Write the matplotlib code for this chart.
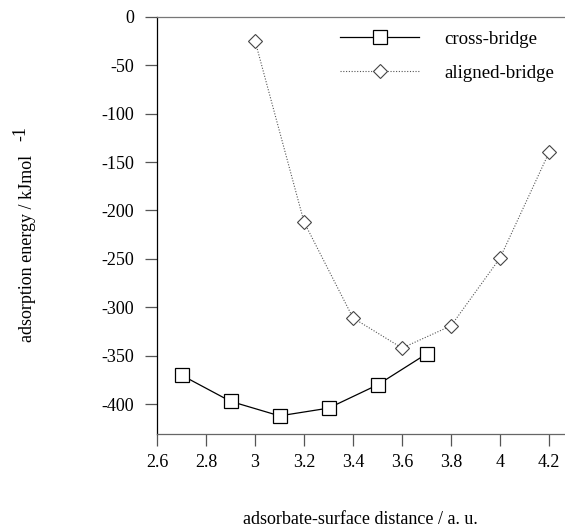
import matplotlib
matplotlib.use("Agg")
import matplotlib.pyplot as plt

cross_x = [2.7, 2.9, 3.1, 3.3, 3.5, 3.7]
cross_y = [-370, -397, -412, -404, -380, -348]
aligned_x = [3.0, 3.2, 3.4, 3.6, 3.8, 4.0, 4.2]
aligned_y = [-25, -212, -311, -342, -319, -249, -140]
xticks = [2.6, 2.8, 3.0, 3.2, 3.4, 3.6, 3.8, 4.0, 4.2]
xticklabels = ["2.6", "2.8", "3", "3.2", "3.4", "3.6", "3.8", "4", "4.2"]
yticks = [0, -50, -100, -150, -200, -250, -300, -350, -400]

plt.rcParams['font.family'] = ['Liberation Serif', 'DejaVu Serif']
fs = 13

fig = plt.figure(figsize=(5.65, 5.3), dpi=100)
ax = fig.add_axes([0.278, 0.1806, 0.722, 0.7879])

ax.plot(cross_x, cross_y, '-', color='black', lw=0.9, marker='s', ms=9.5,
        mfc='white', mec='black', mew=0.9, label='cross-bridge')
ax.plot(aligned_x, aligned_y, linestyle=(0, (1, 1.5)), color='#555555', lw=0.8,
        marker='D', ms=6.7, mfc='white', mec='#444444', mew=0.8, label='aligned-bridge')

ax.set_xlim(2.6, 4.265)
ax.set_ylim(-431, 0)
ax.set_xticks(xticks)
ax.set_xticklabels(xticklabels, fontsize=fs)
ax.set_yticks(yticks)
ax.set_yticklabels([str(v) for v in yticks], fontsize=fs)
ax.tick_params(axis='both', direction='out', length=8.5, width=0.9, color='#555555')
ax.tick_params(axis='x', pad=6)
ax.tick_params(axis='y', pad=8)

ax.spines['right'].set_visible(False)
ax.spines['top'].set_color('#777777')
ax.spines['bottom'].set_color('#666666')
ax.spines['left'].set_color('black')
for s in ax.spines.values():
    s.set_linewidth(0.9)

ax.legend(loc='upper left', bbox_to_anchor=(0.43, 0.985), frameon=False,
          fontsize=13.6, handlelength=4.2, handletextpad=1.3, labelspacing=0.9,
          borderaxespad=0)

fig.text(0.637, 0.003, 'adsorbate-surface distance / a. u.', ha='center',
         va='bottom', fontsize=fs)
fig.text(0.049, 0.531, 'adsorption energy / kJmol', rotation=90, ha='center',
         va='center', fontsize=fs)
fig.text(0.037, 0.749, '-1', rotation=90, ha='center', va='center', fontsize=fs)

fig.savefig('out.png', dpi=100)
